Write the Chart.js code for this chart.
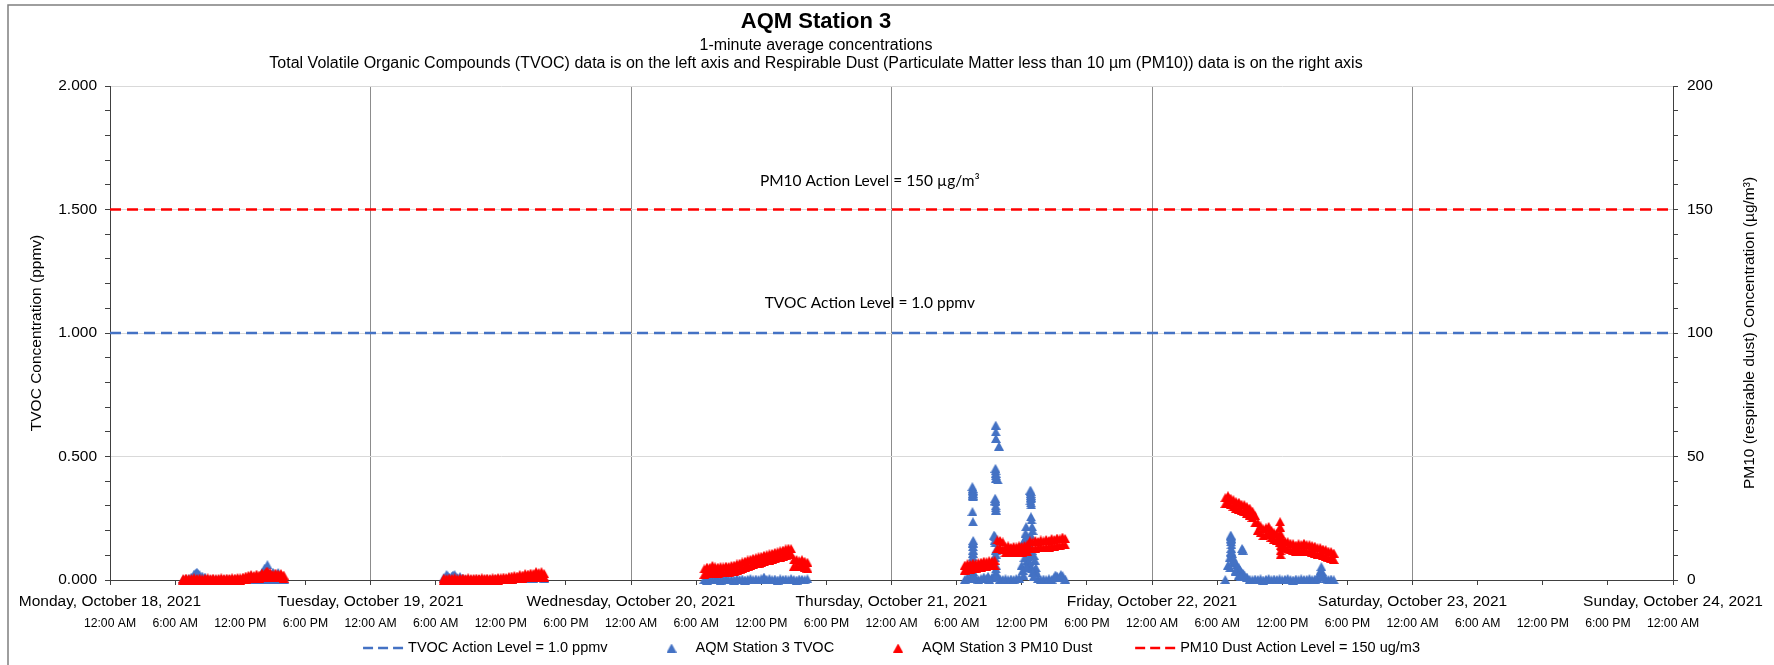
<!DOCTYPE html>
<html lang="en">
<head>
<meta charset="utf-8">
<title>AQM Station 3</title>
<script src="https://cdn.jsdelivr.net/npm/chart.js@4.4.1/dist/chart.umd.min.js"></script>
<style>
  html, body { margin: 0; padding: 0; background: #ffffff; }
  canvas { display: block; }
</style>
</head>
<body>
<canvas id="chartAqm" width="1774" height="665"></canvas>
<script>
// horas contadas desde Monday, October 18, 2021 12:00 AM
const dias = [
    "Monday, October 18, 2021", "Tuesday, October 19, 2021", "Wednesday, October 20, 2021",
    "Thursday, October 21, 2021", "Friday, October 22, 2021", "Saturday, October 23, 2021",
    "Sunday, October 24, 2021"
];
const horasDelDia = ["12:00 AM", "6:00 AM", "12:00 PM", "6:00 PM"];

const horasMuestra = [
    6.75, 7, 7.25, 7.5, 7.75, 8, 8.25, 8.5, 8.75, 9, 9.25, 9.5, 9.75, 10, 10.25, 10.5, 10.75, 11, 11.25, 11.5,
    11.75, 12, 12.25, 12.5, 12.75, 13, 13.25, 13.5, 13.75, 14, 14.25, 14.5, 14.75, 15, 15.25, 15.5, 15.75, 16,
    30.75, 31, 31.25, 31.5, 31.75, 32, 32.25, 32.5, 32.75, 33, 33.25, 33.5, 33.75, 34, 34.25, 34.5, 34.75, 35, 35.25, 35.5,
    35.75, 36, 36.25, 36.5, 36.75, 37, 37.25, 37.5, 37.75, 38, 38.25, 38.5, 38.75, 39, 39.25, 39.5, 39.75, 40,
    54.75, 55, 55.25, 55.5, 55.75, 56, 56.25, 56.5, 56.75, 57, 57.25, 57.5, 57.75, 58, 58.25, 58.5, 58.75, 59, 59.25, 59.5,
    59.75, 60, 60.25, 60.5, 60.75, 61, 61.25, 61.5, 61.75, 62, 62.25, 62.5, 62.75, 63, 63.25, 63.5, 63.75, 64, 64.25,
    78.75, 79, 79.25, 79.5, 79.75, 80, 80.25, 80.5, 80.75, 81, 81.25, 81.5, 81.75, 82, 82.25, 82.5, 82.75, 83, 83.25, 83.5,
    83.75, 84, 84.25, 84.5, 84.75, 85, 85.25, 85.5, 85.75, 86, 86.25, 86.5, 86.75, 87, 87.25, 87.5, 87.75, 88,
    102.75, 103, 103.25, 103.5, 103.75, 104, 104.25, 104.5, 104.75, 105, 105.25, 105.5, 105.75, 106, 106.25, 106.5,
    106.75, 107, 107.25, 107.5, 107.75, 108, 108.25, 108.5, 108.75, 109, 109.25, 109.5, 109.75, 110, 110.25, 110.5,
    110.75, 111, 111.25, 111.5, 111.75, 112, 112.25, 112.5, 112.75
];

const tvocPpmv = [
    .002, .004, .006, .012, .024, .032, .022, .016, .012, .004, .003, .002, .003, .002, .003, .002, .004, .003, .002, .003,
    .004, .003, .004, .006, .010, .018, .008, .006, .010, .030, .048, .062, .020, .032, .012, .030, .010, .004,
    .010, .022, .012, .016, .022, .010, .014, .008, .004, .003, .002, .003, .002, .004, .003, .002, .003, .002, .003, .004,
    .003, .002, .003, .004, .003, .004, .005, .006, .008, .006, .009, .007, .010, .008, .011, .009, .012, .008,
    .002, .000, .004, .001, .005, .002, .000, .003, .006, .001, .003, .000, .005, .002, .004, .000, .003, .006, .001, .004,
    .002, .005, .012, .003, .006, .001, .004, .000, .005, .002, .004, .001, .006, .002, .000, .004, .003, .001, .005,
    .002, .012, .006, .150, .008, .002, .005, .012, .006, .003, .010, .160, .020, .004, .002, .005, .001, .004, .002, .006,
    .008, .060, .120, .080, .140, .100, .040, .006, .002, .004, .001, .005, .003, .010, .016, .012, .018, .004,
    .002, .060, .110, .070, .040, .050, .030, .020, .012, .003, .001, .004, .002, .005, .000, .003,
    .006, .001, .004, .002, .005, .001, .003, .006, .002, .000, .004, .001, .005, .002, .003, .006,
    .001, .004, .008, .030, .020, .005, .002, .004, .001
];

// PM10: lectura mas baja y mas alta de cada intervalo de 15 minutos
const pm10Bajo = [
    0.0, 0.0, 0.1, 0.0, 0.0, 0.1, 0.0, 0.0, 0.1, 0.0, 0.0, 0.1, 0.0, 0.0, 0.1, 0.0, 0.0, 0.1, 0.0, 0.0,
    0.1, 0.0, 0.2, 0.4, 0.6, 0.8, 0.6, 0.9, 0.8, 1.0, 1.2, 1.8, 1.4, 1.0, 1.2, 1.0, 1.2, 0.8,
    0.0, 0.1, 0.0, 0.0, 0.1, 0.0, 0.0, 0.1, 0.0, 0.0, 0.1, 0.0, 0.0, 0.1, 0.0, 0.0, 0.1, 0.0, 0.0, 0.1,
    0.0, 0.1, 0.2, 0.1, 0.3, 0.4, 0.6, 0.5, 0.8, 0.7, 1.0, 0.9, 1.2, 1.1, 1.4, 1.2, 1.6, 1.2,
    2.3, 2.6, 2.8, 3.0, 2.9, 2.8, 2.9, 3.0, 3.0, 3.2, 3.3, 3.6, 3.9, 4.4, 4.7, 5.2, 5.5, 6.0, 6.2, 6.6,
    6.8, 7.2, 7.4, 7.8, 8.0, 8.4, 8.6, 9.0, 9.2, 9.7, 10.1, 10.8, 10.5, 5.5, 5.7, 5.4, 5.5, 5.2, 4.8,
    4.0, 4.2, 4.4, 4.6, 4.8, 5.0, 5.2, 5.4, 5.6, 5.8, 5.8, 6.0, 12.8, 13.0, 12.4, 11.0, 11.2, 11.0, 11.3, 11.1,
    11.4, 11.3, 11.6, 11.6, 12.8, 12.6, 12.9, 13.0, 13.2, 13.1, 13.4, 13.3, 13.8, 13.6, 14.0, 13.9, 14.3, 14.2,
    30.9, 31.1, 30.5, 29.7, 29.1, 28.7, 28.1, 27.7, 27.1, 26.3, 25.3, 23.1, 20.1, 19.1, 17.9, 18.3,
    18.9, 17.3, 16.5, 16.1, 15.1, 13.7, 13.1, 12.7, 12.3, 11.9, 11.5, 11.9, 11.7, 12.1, 11.7, 11.5,
    11.3, 10.9, 10.5, 10.3, 9.9, 9.5, 9.1, 8.7, 8.3
];
const pm10Alto = [
    0.6, 0.8, 0.5, 0.7, 0.9, 0.6, 0.8, 0.5, 0.7, 0.9, 0.6, 0.8, 0.5, 0.7, 0.9, 0.6, 0.8, 0.7, 0.9, 0.8,
    1.0, 0.9, 1.2, 1.6, 1.9, 2.2, 1.8, 2.4, 2.0, 2.8, 2.6, 3.6, 3.0, 2.2, 2.8, 2.4, 2.6, 2.0,
    0.7, 0.5, 0.8, 0.6, 0.9, 0.5, 0.7, 0.8, 0.6, 0.9, 0.5, 0.7, 0.8, 0.6, 0.9, 0.7, 0.8, 0.6, 0.9, 0.8,
    1.0, 0.9, 1.2, 1.0, 1.4, 1.6, 1.8, 1.6, 2.2, 2.0, 2.6, 2.4, 2.8, 2.6, 3.4, 3.0, 3.4, 2.6,
    4.5, 5.2, 5.1, 5.9, 5.3, 5.2, 5.4, 5.3, 5.6, 5.5, 5.9, 6.0, 6.5, 6.8, 7.3, 7.6, 8.1, 8.4, 8.8, 9.0,
    9.4, 9.6, 10.0, 10.2, 10.6, 10.8, 11.2, 11.4, 11.8, 12.1, 12.6, 12.9, 12.7, 8.1, 8.3, 7.8, 8.2, 7.6, 7.2,
    6.0, 6.6, 6.4, 6.8, 6.6, 7.0, 7.2, 7.6, 7.4, 7.8, 7.6, 8.0, 16.2, 16.0, 15.4, 13.4, 13.8, 13.2, 13.6, 13.4,
    13.8, 13.6, 14.0, 14.2, 15.8, 15.4, 16.0, 15.6, 16.2, 15.8, 16.4, 16.0, 16.8, 16.4, 17.0, 16.6, 17.4, 16.8,
    33.3, 34.1, 33.1, 32.5, 31.7, 31.5, 30.7, 30.5, 29.7, 29.1, 27.9, 26.1, 23.1, 21.9, 20.7, 21.1,
    21.7, 20.1, 19.1, 18.9, 17.7, 16.5, 15.7, 15.5, 14.9, 14.7, 14.1, 14.7, 14.3, 14.9, 14.3, 14.3,
    13.9, 13.7, 13.1, 13.1, 12.5, 12.3, 11.7, 11.5, 10.9
];

// lecturas de 1 minuto que forman los picos
const tvocPicosHoras = [
    7.9, 8.1, 13.1, 13.6, 14.1, 14.35, 14.45, 14.6, 15.05, 15.1, 15.45, 15.6, 15.9,
    31.1, 31.6, 31.8,
    79.45, 79.47, 79.5, 79.52, 79.46, 79.5, 79.48, 79.5, 79.52, 79.5, 79.48, 79.5, 79.45, 79.5, 79.55,
    79.49, 79.51, 79.47, 79.53, 79.46, 79.5, 79.52, 79.48,
    81.6, 81.62, 81.9, 81.58, 81.6, 81.62, 81.8, 81.55, 81.58, 81.6, 81.62, 81.55, 81.45, 81.6, 81.55, 81.6, 81.58,
    81.61, 81.59, 81.61, 81.57, 81.6, 81.56, 81.62, 81.58, 81.6,
    84.8, 84.82, 84.85, 84.8, 84.88, 84.85, 84.9, 84.95, 85.0, 84.4, 84.35, 84.45, 84.2, 84.3, 84.6, 84.7, 84.5,
    84.9, 85.1, 85.2, 84.25, 84.55, 85.3, 85.35, 84.1, 84.15,
    84.81, 84.83, 84.86, 84.84, 84.4, 84.5, 84.6, 84.7, 84.8, 84.9, 85.0, 85.1, 84.45, 84.65, 84.85,
    80.9, 87.1, 87.6,
    103.25, 103.3, 103.28, 103.32, 103.3, 103.35, 103.4, 104.3, 104.35, 103.6, 103.8, 103.9, 104.1, 104.4, 103.15, 103.2,
    103.27, 103.29, 103.31, 103.5, 103.7, 104.0, 104.2,
    111.55, 111.6, 111.62, 111.65
];
const tvocPicosPpmv = [
    .028, .026, .002, .001, .002, .045, .038, .002, .028, .002, .026, .002, .001,
    .018, .020, .015,
    .378, .364, .351, .337, .277, .236, .148, .135, .121, .108, .094, .075, .055, .035, .020,
    .370, .357, .344, .160, .082, .065, .045, .010,
    .627, .573, .542, .452, .432, .412, .405, .331, .316, .300, .283, .175, .182, .120, .090, .060, .030,
    .600, .442, .422, .322, .292, .150, .045, .015, .105,
    .364, .350, .336, .320, .304, .256, .243, .216, .200, .216, .190, .175, .160, .145, .150, .130, .110,
    .120, .100, .080, .090, .065, .050, .030, .040, .020,
    .358, .343, .328, .312, .140, .125, .095, .075, .060, .045, .030, .015, .050, .170, .180,
    .015, .020, .022,
    .182, .169, .155, .142, .128, .108, .094, .128, .121, .074, .061, .050, .040, .027, .090, .050,
    .175, .162, .115, .085, .035, .020, .015,
    .040, .054, .034, .013
];
const pm10PicosHoras = [14.4, 107.8, 107.8, 107.82, 107.82, 107.85, 107.85, 107.85];
const pm10PicosUgm3 = [3.4, 23.6, 21.4, 19.0, 16.4, 13.8, 11.8, 10.2];

const nivelHoras = [0, 144];
const nivelTvoc = [1.0, 1.0];
const nivelPm10 = [150, 150];

const tituloLineas = [
    "AQM Station 3",
    "1-minute average concentrations",
    "Total Volatile Organic Compounds (TVOC) data is on the left axis and Respirable Dust (Particulate Matter less than 10 µm (PM10)) data is on the right axis"
];

const AZUL = "#4472C4";
const ROJO = "#FF0000";
const FUENTE = '"Liberation Sans", Arial, Helvetica, sans-serif';

function puntos(horas, valores){
    return horas.map((h, i) => ({ x: h, y: valores[i] }));
}

// marcador triangular como en Excel, centrado por su caja
function imagenTriangulo(color){
    const c = document.createElement("canvas");
    c.width = 10;
    c.height = 9;
    const g = c.getContext("2d");
    g.fillStyle = color;
    g.beginPath();
    g.moveTo(5, 0);
    g.lineTo(10, 9);
    g.lineTo(0, 9);
    g.closePath();
    g.fill();
    return c;
}

function dibujarLeyenda(chart){
    const ctx = chart.ctx;
    const area = chart.chartArea;
    const items = chart.data.datasets;
    const anchoSimbolo = 42, hueco = 3, entre = 43;

    ctx.save();
    ctx.font = "14.5px " + FUENTE;
    ctx.textBaseline = "middle";
    ctx.textAlign = "left";
    const anchos = items.map(ds => ctx.measureText(ds.label).width);
    const total = anchos.reduce((s, w) => s + anchoSimbolo + hueco + w, 0) + entre * (items.length - 1);
    let x = (area.left + area.right) / 2 - total / 2;
    const y = 648;

    items.forEach((ds, i) => {
        if(ds.type === "line"){
            ctx.strokeStyle = ds.borderColor;
            ctx.lineWidth = ds.borderWidth;
            ctx.setLineDash([10, 5]);
            ctx.beginPath();
            ctx.moveTo(x, y);
            ctx.lineTo(x + anchoSimbolo, y);
            ctx.stroke();
            ctx.setLineDash([]);
        }else{
            const img = ds.pointStyle;
            ctx.drawImage(img, x + anchoSimbolo / 2 - img.width / 2, y - img.height / 2);
        }
        ctx.fillStyle = "#000";
        ctx.fillText(ds.label, x + anchoSimbolo + hueco, y);
        x += anchoSimbolo + hueco + anchos[i] + entre;
    });
    ctx.restore();
}

const decoracion = {
    id: "decoracion",
    afterDraw(chart){
        const ctx = chart.ctx;
        const area = chart.chartArea;
        const sx = chart.scales.x;

        ctx.save();
        // marco exterior
        ctx.strokeStyle = "#7f7f7f";
        ctx.lineWidth = 1.5;
        ctx.strokeRect(8, 5, chart.width + 20, chart.height + 20);

        // titulos
        ctx.fillStyle = "#000";
        ctx.textAlign = "center";
        ctx.textBaseline = "middle";
        ctx.font = "bold 22px " + FUENTE;
        ctx.fillText(tituloLineas[0], 816, 22);
        ctx.font = "16px " + FUENTE;
        ctx.fillText(tituloLineas[1], 816, 46);
        ctx.fillText(tituloLineas[2], 816, 64);

        // etiquetas de los niveles de accion
        ctx.font = "15.5px Lato, 'Open Sans', sans-serif";
        const xEtiqueta = sx.getPixelForValue(70);
        ctx.fillText("PM10 Action Level = 150 µg/m³", xEtiqueta, chart.scales.y2.getPixelForValue(150) - 29);
        ctx.fillText("TVOC Action Level = 1.0 ppmv", xEtiqueta, chart.scales.y.getPixelForValue(1.0) - 30);

        // titulo del eje derecho, leido de abajo hacia arriba
        ctx.font = "15.5px " + FUENTE;
        ctx.translate(chart.width - 24, (area.top + area.bottom) / 2);
        ctx.rotate(-Math.PI / 2);
        ctx.fillText("PM10 (respirable dust) Concentration (µg/m³)", 0, 0);
        ctx.restore();

        dibujarLeyenda(chart);
    }
};

document.addEventListener("DOMContentLoaded", () => {
    Chart.defaults.font.family = FUENTE;
    Chart.defaults.color = "#000";

    const ctx = document.getElementById("chartAqm");

    new Chart(ctx, {
        type: "scatter",
        data: {
            datasets: [
                {
                    type: "line",
                    label: "TVOC Action Level = 1.0 ppmv",
                    data: puntos(nivelHoras, nivelTvoc),
                    yAxisID: "y",
                    borderColor: AZUL,
                    borderWidth: 2.5,
                    borderDash: [11, 6],
                    pointRadius: 0,
                    showLine: true,
                    order: 1
                },
                {
                    label: "AQM Station 3 TVOC",
                    data: puntos(horasMuestra, tvocPpmv).concat(puntos(tvocPicosHoras, tvocPicosPpmv)),
                    yAxisID: "y",
                    pointStyle: imagenTriangulo(AZUL),
                    pointRadius: 4,
                    backgroundColor: AZUL,
                    borderColor: AZUL,
                    clip: 8,
                    order: 3
                },
                {
                    label: "AQM Station 3 PM10 Dust",
                    data: puntos(horasMuestra, pm10Bajo).concat(
                        puntos(horasMuestra, pm10Alto),
                        puntos(pm10PicosHoras, pm10PicosUgm3)
                    ),
                    yAxisID: "y2",
                    pointStyle: imagenTriangulo(ROJO),
                    pointRadius: 4,
                    backgroundColor: ROJO,
                    borderColor: ROJO,
                    clip: 8,
                    order: 2
                },
                {
                    type: "line",
                    label: "PM10 Dust Action Level = 150 ug/m3",
                    data: puntos(nivelHoras, nivelPm10),
                    yAxisID: "y2",
                    borderColor: ROJO,
                    borderWidth: 2.5,
                    borderDash: [11, 6],
                    pointRadius: 0,
                    showLine: true,
                    order: 1
                }
            ]
        },
        options: {
            responsive: false,
            animation: false,
            devicePixelRatio: 1,
            layout: { padding: { top: 86, left: 8, right: 0, bottom: 33 } },
            plugins: {
                legend: { display: false },
                title: { display: false },
                tooltip: { enabled: false }
            },
            scales: {
                x: {
                    type: "linear",
                    position: "bottom",
                    min: 0,
                    max: 144,
                    ticks: {
                        stepSize: 6,
                        maxTicksLimit: 100,
                        autoSkip: false,
                        maxRotation: 0,
                        minRotation: 0,
                        padding: 7,
                        font: { size: 15.5 },
                        callback: v => v % 24 === 0 ? dias[v / 24] : ""
                    },
                    grid: {
                        color: c => c.tick && c.tick.value % 24 === 0 ? "#8c8c8c" : "rgba(0,0,0,0)",
                        tickColor: "#404040",
                        tickLength: 5,
                        lineWidth: 1
                    },
                    border: { color: "#404040", width: 1 },
                    afterFit: s => { s.height = 32; }
                },
                xHoras: {
                    type: "linear",
                    position: "bottom",
                    weight: 1,
                    min: 0,
                    max: 144,
                    ticks: {
                        stepSize: 6,
                        maxTicksLimit: 100,
                        autoSkip: false,
                        maxRotation: 0,
                        minRotation: 0,
                        padding: 4,
                        font: { size: 12.2 },
                        callback: v => horasDelDia[(v / 6) % 4]
                    },
                    grid: { display: false, drawTicks: false },
                    border: { display: false },
                    afterFit: s => { s.height = 20; }
                },
                y: {
                    position: "left",
                    min: 0,
                    max: 2,
                    ticks: {
                        stepSize: 0.1,
                        maxTicksLimit: 100,
                        autoSkip: false,
                        padding: 8,
                        font: { size: 15.5 },
                        callback: v => Math.round(v * 10) % 5 === 0 ? v.toFixed(3) : ""
                    },
                    grid: {
                        color: c => c.tick && Math.round(c.tick.value * 10) % 5 === 0 ? "#d9d9d9" : "rgba(0,0,0,0)",
                        tickColor: "#404040",
                        tickLength: 5
                    },
                    border: { color: "#404040", width: 1 },
                    title: {
                        display: true,
                        text: "TVOC Concentration (ppmv)",
                        font: { size: 15.5 },
                        padding: { top: 19, bottom: 0 }
                    },
                    afterFit: s => { s.width = 102; }
                },
                y2: {
                    position: "right",
                    min: 0,
                    max: 200,
                    ticks: {
                        stepSize: 10,
                        maxTicksLimit: 100,
                        autoSkip: false,
                        padding: 9,
                        font: { size: 15.5 },
                        callback: v => v % 50 === 0 ? String(v) : ""
                    },
                    grid: {
                        drawOnChartArea: false,
                        color: "#404040",
                        tickColor: "#404040",
                        tickLength: 5
                    },
                    border: { color: "#404040", width: 1 },
                    afterFit: s => { s.width = 101; }
                }
            }
        },
        plugins: [decoracion]
    });
});
</script>
</body>
</html>
